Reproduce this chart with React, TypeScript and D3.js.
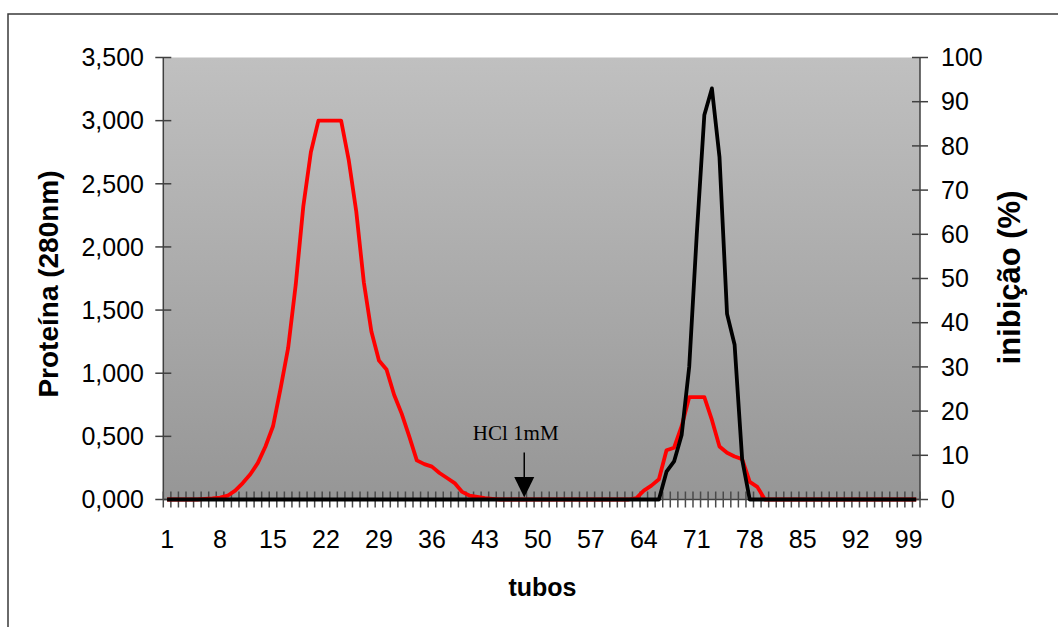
import React, { useEffect } from "react";
import * as d3 from "d3";

const categories: number[] = d3.range(1, 101);
const xTickLabels: number[] = [1, 8, 15, 22, 29, 36, 43, 50, 57, 64, 71, 78, 85, 92, 99];
const leftTicks: number[] = [0, 0.5, 1, 1.5, 2, 2.5, 3, 3.5];
const rightTicks: number[] = [0, 10, 20, 30, 40, 50, 60, 70, 80, 90, 100];

// Proteína (280nm), tubes 1..100
const protein: number[] = [
  0, 0, 0, 0, 0, 0.005, 0.008, 0.015, 0.03, 0.07,
  0.13, 0.2, 0.29, 0.42, 0.58, 0.88, 1.2, 1.7, 2.32, 2.75,
  3.0, 3.0, 3.0, 3.0, 2.69, 2.28, 1.72, 1.33, 1.1, 1.03,
  0.83, 0.68, 0.5, 0.31, 0.28, 0.26, 0.21, 0.17, 0.13, 0.06,
  0.03, 0.02, 0.01, 0.005, 0, 0, 0, 0, 0, 0,
  0, 0, 0, 0, 0, 0, 0, 0, 0, 0,
  0, 0, 0.01, 0.07, 0.11, 0.16, 0.39, 0.41, 0.58, 0.81,
  0.81, 0.81, 0.63, 0.42, 0.37, 0.34, 0.32, 0.14, 0.1, 0,
  0, 0, 0, 0, 0, 0, 0, 0, 0, 0,
  0, 0, 0, 0, 0, 0, 0, 0, 0, 0,
];

// inibição (%), tubes 1..100
const inhibition: number[] = [
  0, 0, 0, 0, 0, 0, 0, 0, 0, 0,
  0, 0, 0, 0, 0, 0, 0, 0, 0, 0,
  0, 0, 0, 0, 0, 0, 0, 0, 0, 0,
  0, 0, 0, 0, 0, 0, 0, 0, 0, 0,
  0, 0, 0, 0, 0, 0, 0, 0, 0, 0,
  0, 0, 0, 0, 0, 0, 0, 0, 0, 0,
  0, 0, 0, 0, 0, 0, 6.3, 8.6, 14.6, 30,
  60, 87, 93, 77.5, 42, 35, 9, 0, 0, 0,
  0, 0, 0, 0, 0, 0, 0, 0, 0, 0,
  0, 0, 0, 0, 0, 0, 0, 0, 0, 0,
];

const annotationTube = 48;
const annotationText = "HCl 1mM";

const W = 1058;
const H = 627;
const PL = 163.3, PR = 920, PT = 57.5, PB = 499.5;
const SANS = "'Liberation Sans', Arial, sans-serif";

export default function App() {
  useEffect(() => {
    document.body.style.margin = "0";
  }, []);

  const x = d3.scaleBand<number>().domain(categories).range([PL, PR]).padding(0);
  const bw = x.bandwidth();
  const cx = (c: number) => (x(c) as number) + bw / 2;
  const yL = d3.scaleLinear().domain([0, 3.5]).range([PB, PT]);
  const yR = d3.scaleLinear().domain([0, 100]).range([PB, PT]);
  const fmtL = (v: number) => d3.format(".3f")(v).replace(".", ",");

  const lineL = d3.line<number>().x((_, i) => cx(categories[i])).y((v) => yL(v));
  const lineR = d3.line<number>().x((_, i) => cx(categories[i])).y((v) => yR(v));

  const boundaries = [...categories.map((c) => x(c) as number), PR];
  const ax = cx(annotationTube) + bw * 0.2;

  return (
    <svg width={W} height={H} style={{ display: "block" }}>
      <defs>
        <linearGradient id="bg" x1="0" y1="0" x2="0" y2="1">
          <stop offset="0" stopColor="#c0c0c0" />
          <stop offset="1" stopColor="#969696" />
        </linearGradient>
      </defs>
      <rect x={0} y={0} width={W} height={H} fill="#ffffff" />
      <rect x={8} y={14} width={1100} height={800} fill="none" stroke="#3a3a3a" strokeWidth={1.5} />
      <rect x={PL} y={PT} width={PR - PL} height={PB - PT} fill="url(#bg)" />

      {/* left axis */}
      <line x1={PL} x2={PL} y1={PT} y2={PB} stroke="#404040" strokeWidth={1.5} />
      {leftTicks.map((t) => (
        <g key={"l" + t}>
          <line x1={PL - 8} x2={PL + 8} y1={yL(t)} y2={yL(t)} stroke="#404040" strokeWidth={1.5} />
          <text x={144} y={yL(t)} dy="0.35em" textAnchor="end" fontFamily={SANS} fontSize={25} fill="#000">
            {fmtL(t)}
          </text>
        </g>
      ))}

      {/* right axis */}
      <line x1={PR} x2={PR} y1={PT} y2={PB} stroke="#404040" strokeWidth={1.5} />
      {rightTicks.map((t) => (
        <g key={"r" + t}>
          <line x1={PR - 8} x2={PR + 8} y1={yR(t)} y2={yR(t)} stroke="#404040" strokeWidth={1.5} />
          <text x={941} y={yR(t)} dy="0.35em" textAnchor="start" fontFamily={SANS} fontSize={25} fill="#000">
            {t}
          </text>
        </g>
      ))}

      {/* x axis */}
      <line x1={PL} x2={PR} y1={PB} y2={PB} stroke="#404040" strokeWidth={1.5} />
      {boundaries.map((b, i) => (
        <line key={"x" + i} x1={b} x2={b} y1={PB - 8} y2={PB + 8} stroke="#4a4a4a" strokeWidth={1.5} />
      ))}
      {xTickLabels.map((c) => (
        <text key={"xl" + c} x={cx(c)} y={548} textAnchor="middle" fontFamily={SANS} fontSize={25} fill="#000">
          {c}
        </text>
      ))}

      {/* series */}
      <path d={lineL(protein) || ""} fill="none" stroke="#ff0000" strokeWidth={3.8} strokeLinejoin="round" />
      <path d={lineR(inhibition) || ""} fill="none" stroke="#000000" strokeWidth={3.8} strokeLinejoin="round" />

      {/* annotation */}
      <text x={ax - 8.5} y={440} textAnchor="middle" fontFamily="'Liberation Serif', 'Times New Roman', serif" fontSize={21} fill="#000">
        {annotationText}
      </text>
      <line x1={ax} x2={ax} y1={452.5} y2={478} stroke="#000" strokeWidth={1.5} />
      <path d={`M${ax - 10},${477} L${ax + 10},${477} L${ax},${497.5} Z`} fill="#000" />

      {/* titles */}
      <text x={542.5} y={596} textAnchor="middle" fontFamily={SANS} fontSize={25} fontWeight="bold" fill="#000">
        tubos
      </text>
      <text transform="translate(57.5,284) rotate(-90)" textAnchor="middle" fontFamily={SANS} fontSize={28} fontWeight="bold" fill="#000">
        Proteína (280nm)
      </text>
      <text transform="translate(1020,277.5) rotate(-90)" textAnchor="middle" fontFamily={SANS} fontSize={31} fontWeight="bold" fill="#000">
        inibição (%)
      </text>
    </svg>
  );
}
